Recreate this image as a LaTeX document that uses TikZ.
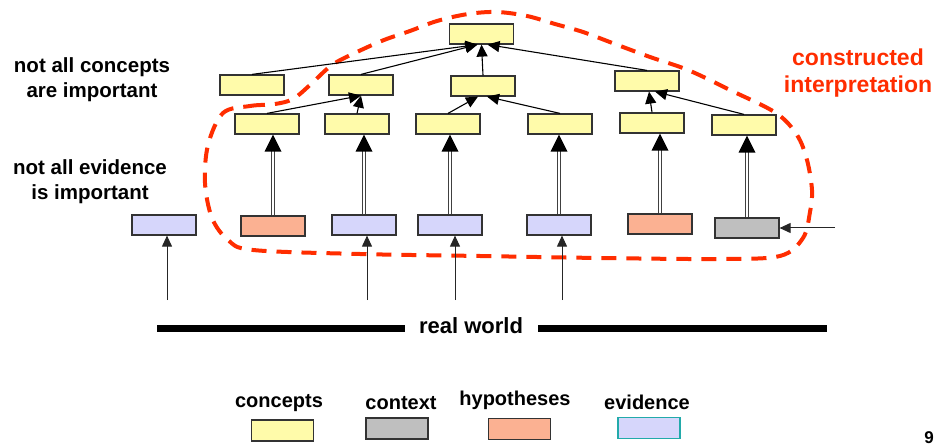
\documentclass[tikz,border=0pt]{standalone}
\usepackage{fontspec}
\setmainfont{Liberation Sans}
\usetikzlibrary{arrows.meta}
\definecolor{cfill}{HTML}{FFFBAA}
\definecolor{hfill}{HTML}{FBB192}
\definecolor{efill}{HTML}{D6D6FB}
\definecolor{xfill}{HTML}{BFBFBF}
\definecolor{bord}{HTML}{333333}
\definecolor{teal2}{HTML}{22AAAA}
\definecolor{redc}{RGB}{255,45,0}
\tikzset{
  box/.style={draw=bord, line width=1.2pt, minimum width=64pt, minimum height=20pt, inner sep=0pt},
  concept/.style={box, fill=cfill},
  hypo/.style={box, fill=hfill},
  evid/.style={box, fill=efill},
  ctx/.style={box, fill=xfill},
  lbox/.style={draw=bord, line width=1.2pt, minimum width=62pt, minimum height=21pt, inner sep=0pt},
  arr/.style={line width=1.1pt, -{Triangle[length=12pt,width=11pt]}},
  inarr/.style={line width=1pt, draw=black!85, -{Triangle[length=11pt,width=10pt]}},
  dblline/.style={draw=black!75, line width=0.8pt, double=white, double distance=1.8pt},
  lbl/.style={font=\bfseries\fontsize{20.5}{25}\selectfont, align=center, inner sep=0pt},
  redlbl/.style={font=\bfseries\fontsize{23}{27}\selectfont, align=center, inner sep=0pt, text=redc},
}
\newcommand\dblarr[2]{%
  \draw[dblline] (#1.north) -- ([yshift=-15pt]#1.north |- #2.south);
  \fill[black] (#1.north |- #2.south) -- ++(-8.5,17) -- ++(17,0) -- cycle;}
\begin{document}
\begin{tikzpicture}[x=1pt,y=-1pt]
\path[use as bounding box] (0,0) rectangle (939,446);

% red dashed region
\draw[redc, line width=4pt, dash pattern=on 15pt off 10pt]
  plot[smooth cycle, tension=0.55] coordinates {
  (223,113) (250,106) (275,104) (293,99) (310,85) (332,65) (357,52) (384,40)
  (410,31) (437,21) (468,14) (497,12) (527,16) (555,24) (583,32) (615,44)
  (650,57) (688,70) (730,90) (776,113) (797,135) (807,160) (812,190) (810,212)
  (803,238) (780,256) (720,259) (600,258) (480,256) (360,254) (253,250)
  (228,240) (212,218) (205,183) (208,145)};

% top
\node[concept] (T) at (481.5,34) {};
% level 2
\node[concept] (A) at (252,85) {};
\node[concept] (B) at (361,85) {};
\node[concept] (C) at (483,86) {};
\node[concept] (D) at (647,81) {};
% level 3
\node[concept] (E1) at (267,124) {};
\node[concept] (E2) at (357,124) {};
\node[concept] (E3) at (448,124) {};
\node[concept] (E4) at (560,124) {};
\node[concept] (E5) at (652,123) {};
\node[concept] (E6) at (744,125) {};
% bottom row
\node[evid] (F0) at (164,225) {};
\node[hypo] (F1) at (273,226) {};
\node[evid] (F2) at (364,225) {};
\node[evid] (F3) at (450,225) {};
\node[evid] (F4) at (559,225) {};
\node[hypo] (F5) at (660,224) {};
\node[ctx]  (F6) at (747,228) {};

% connectors to top
\draw[arr] (A.north) -- ([xshift=-4pt]T.south);
\draw[arr] (B.north) -- ([xshift=-4pt]T.south);
\draw[arr] (C.north) -- (T.south);
\draw[arr] (D.north) -- ([xshift=6pt]T.south);
% level 3 to level 2
\draw[arr] (E1.north) -- (B.south);
\draw[arr] (E2.north) -- (B.south);
\draw[arr] (E3.north) -- ([xshift=-5pt]C.south);
\draw[arr] (E4.north) -- ([xshift=4pt]C.south);
\draw[arr] (E5.north) -- ([xshift=2pt]D.south);
\draw[arr] (E6.north) -- ([xshift=8pt]D.south);
% double arrows
\dblarr{F1}{E1}
\dblarr{F2}{E2}
\dblarr{F3}{E3}
\dblarr{F4}{E4}
\dblarr{F5}{E5}
\dblarr{F6}{E6}

% inputs from the real world
\coordinate (in0) at (167,300);
\coordinate (in2) at (367,300);
\coordinate (in3) at (455,300);
\coordinate (in4) at (562,300);
\draw[inarr] (in0) -- (in0 |- F0.south);
\draw[inarr] (in2) -- (in2 |- F2.south);
\draw[inarr] (in3) -- (in3 |- F3.south);
\draw[inarr] (in4) -- (in4 |- F4.south);
\coordinate (cx) at (835,228);
\draw[inarr] (cx) -- (F6.east);

% real world
\node[lbl, font=\bfseries\fontsize{22}{26}\selectfont] (rw) at (471,326) {real world};
\coordinate (rwl) at (157,328);
\coordinate (rwr) at (827,328);
\draw[line width=7pt] (rwl) -- (rwl -| 405,0);
\draw[line width=7pt] (rwr -| 538,0) -- (rwr);

% side labels
\node[lbl] (t1) at (92,80) {not all concepts\\are important};
\node[lbl] (t2) at (90,182) {not all evidence\\is important};
\node[redlbl] (t3) at (858,73) {constructed\\interpretation};

% legend
\node[lbl, font=\bfseries\fontsize{20}{24}\selectfont] (l1) at (279,403) {concepts};
\node[lbl, font=\bfseries\fontsize{20}{24}\selectfont] (l2) at (401,403) {context};
\node[lbl, font=\bfseries\fontsize{20}{24}\selectfont] (l3) at (515,400) {hypotheses};
\node[lbl, font=\bfseries\fontsize{20}{24}\selectfont] (l4) at (647,402) {evidence};
\node[lbox, fill=cfill] (b1) at (282.5,430.5) {};
\node[lbox, fill=xfill] (b2) at (397,428.5) {};
\node[lbox, fill=hfill] (b3) at (519.5,429) {};
\node[lbox, fill=efill, draw=teal2] (b4) at (649,428) {};

% page number
\node[lbl, font=\bfseries\fontsize{17}{20}\selectfont] (pg) at (929,438) {9};
\end{tikzpicture}
\end{document}
